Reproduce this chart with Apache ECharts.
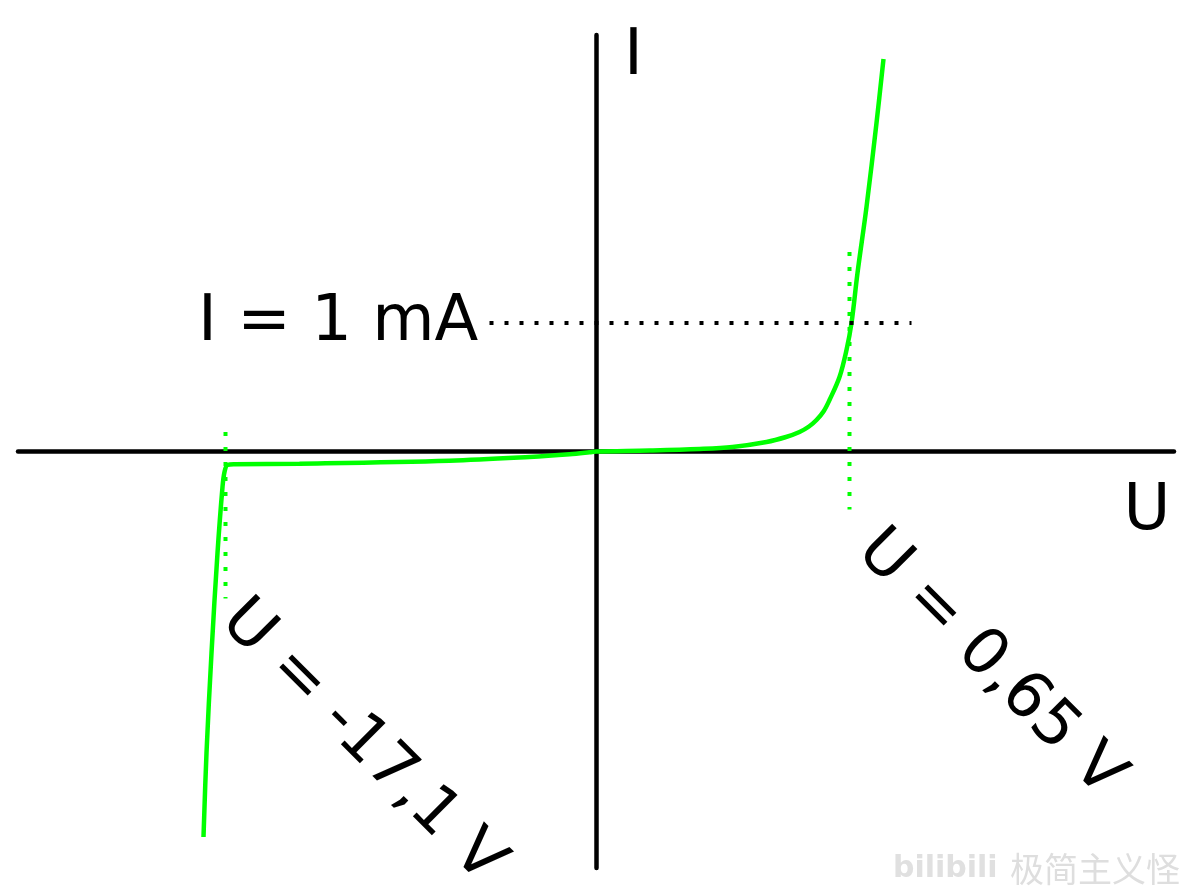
<!DOCTYPE html>
<html>
<head>
<meta charset="utf-8">
<script src="https://cdn.jsdelivr.net/npm/echarts@6/dist/echarts.min.js"></script>
<style>
html,body{margin:0;padding:0;background:#fff;}
#c{width:1192px;height:894px;}
</style>
</head>
<body>
<div id="c"></div>
<script>
// Schematic diode characteristic (arbitrary units: U right, I up)
const curveU = [-392.5, -389.5, -384.5, -378.5, -373.5, -371.5, -368.5, -361.5, -296.5, -146.5, -66.5, -26.5, -6.5, 0, 53.5, 103.5, 136.5, 170.5, 190, 203.5, 213, 220.5, 227.5, 233.5, 243.5, 250.5, 255.5, 261.5, 270.5, 280.5, 287.5];
const curveI = [-385.5, -301.5, -201.5, -101.5, -35.5, -20.5, -13.5, -12.8, -12.2, -9.2, -5.5, -2.8, -0.8, 0, 1, 2.5, 4.5, 9.5, 14.5, 19.5, 25, 31.5, 40, 51.5, 74.5, 101.5, 128.5, 178.5, 244.5, 328.5, 392.5];
// guide lines: I = 1 mA (horizontal), U = 0,65 V and U = -17,1 V (vertical)
const guideCurrentU = [-106.5, 315.5];
const guideCurrentI = [128.5, 128.5];
const guideFwdU = [253.5, 253.5];
const guideFwdI = [199.5, -58];
const guideRevU = [-370.5, -370.5];
const guideRevI = [19.5, -147];
const labels = { axisI: 'I', axisU: 'U', current: 'I = 1 mA', fwd: 'U = 0,65 V', rev: 'U = -17,1 V' };

const zip = (a, b) => a.map((v, i) => [v, b[i]]);
const FONT = 'DejaVu Sans';
const F = '64px "' + FONT + '"';
const chart = echarts.init(document.getElementById('c'), null, { renderer: 'canvas' });
const green = '#00ff00';
chart.setOption({
  animation: false,
  backgroundColor: '#ffffff',
  grid: { left: 18, top: 35, width: 1156, height: 833, containLabel: false },
  xAxis: {
    type: 'value', min: -578, max: 578,
    axisLine: { show: true, onZero: true, lineStyle: { color: '#000', width: 4.5 } },
    axisTick: { show: false }, axisLabel: { show: false }, splitLine: { show: false }
  },
  yAxis: {
    type: 'value', min: -416.5, max: 416.5,
    axisLine: { show: true, onZero: true, lineStyle: { color: '#000', width: 4.5 } },
    axisTick: { show: false }, axisLabel: { show: false }, splitLine: { show: false }
  },
  series: [
    {
      type: 'line', data: zip(curveU, curveI), smooth: 0.35, showSymbol: false, symbol: 'none',
      lineStyle: { color: green, width: 4.5 }, z: 3
    },
    {
      type: 'line', data: zip(guideFwdU, guideFwdI), symbol: 'none',
      lineStyle: { color: green, width: 4, type: [4, 11], cap: 'butt' }, z: 4
    },
    {
      type: 'line', data: zip(guideRevU, guideRevI), symbol: 'none',
      lineStyle: { color: green, width: 4, type: [4, 11], cap: 'butt' }, z: 4
    },
    {
      type: 'line', data: zip(guideCurrentU, guideCurrentI), symbol: 'none',
      lineStyle: { color: '#000', width: 4, type: [4, 11], cap: 'butt' }, z: 5
    }
  ],
  graphic: [
    { type: 'text', x: 624, y: 57, style: { text: labels.axisI, font: F, fill: '#000', align: 'left', verticalAlign: 'middle' } },
    { type: 'text', x: 1123.5, y: 512, style: { text: labels.axisU, font: F, fill: '#000', align: 'left', verticalAlign: 'middle' } },
    { type: 'text', x: 198, y: 323, style: { text: labels.current, font: F, fill: '#000', align: 'left', verticalAlign: 'middle' } },
    { type: 'text', x: 990, y: 664, rotation: -Math.PI / 4, style: { text: labels.fwd, font: F, fill: '#000', align: 'center', verticalAlign: 'middle' } },
    { type: 'text', x: 362, y: 742, rotation: -Math.PI / 4, style: { text: labels.rev, font: F, fill: '#000', align: 'center', verticalAlign: 'middle' } },
    { type: 'text', x: 893, y: 869, style: { text: 'bilibili', font: 'bold 30px "DejaVu Sans"', fill: '#e0e0e0', align: 'left', verticalAlign: 'middle' } },
    { type: 'text', x: 1010, y: 869, style: { text: '极简主义怪', font: '34px "Noto Sans CJK SC"', fill: '#dedede', align: 'left', verticalAlign: 'middle' } }
  ]
});
</script>
</body>
</html>
